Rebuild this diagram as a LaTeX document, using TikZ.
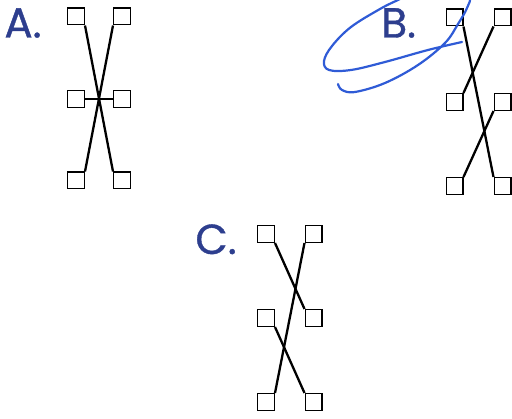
\documentclass[tikz,border=0pt]{standalone}
\usepackage{fontspec}
\newfontfamily\letterfont{Poppins}[FakeBold=0.9]
\usepackage{xcolor}
\usepackage{tikz}
\usetikzlibrary{positioning}
\definecolor{LetterBlue}{HTML}{2D3E8E}
\definecolor{PenBlue}{HTML}{2F5BD6}
\tikzset{
  every picture/.style={line width=0.8pt},
  pinbox/.style={
    draw=black,
    line width=1.2pt,
    minimum size=16.8pt,
    inner sep=0pt,
    fill=white
  },
  wire/.style={draw=black, line width=2.3pt},
  letter/.style={
    font=\letterfont\fontsize{42}{42}\selectfont,
    text=LetterBlue,
    inner sep=0pt,
    anchor=base west
  },
  scribble/.style={draw=PenBlue, line width=2.2pt, line cap=round, line join=round}
}

\begin{document}
\begin{tikzpicture}[x=1pt,y=-1pt]
  \useasboundingbox (0,0) rectangle (512,419);

  % option A
  \node[letter] (labA) at (4,37.5) {A.};
  \foreach \n/\x/\y in {atl/76/16.5, atr/122/16.5, aml/76/99, amr/122/99, abl/76/180.5, abr/122/180.5}
    \node[pinbox] (\n) at (\x,\y) {};
  \draw[wire] (atl.south east) -- (abr.north west);
  \draw[wire] (atr.south west) -- (abl.north east);
  \draw[wire] (aml.east) -- (amr.west);

  % option B
  \node[letter] (labB) at (381,37.5) {B.};
  \foreach \n/\x/\y in {btl/454.5/17.5, btr/502.5/17.5, bml/454.5/102, bmr/502.5/102, bbl/454.5/186, bbr/502.5/186}
    \node[pinbox] (\n) at (\x,\y) {};
  \draw[wire] (btl.south east) -- (bbr.north west);
  \draw[wire] (btr.south west) -- (bml.north east);
  \draw[wire] (bmr.south west) -- (bbl.north east);

  % option C
  \node[letter] (labC) at (195,254) {C.};
  \foreach \n/\x/\y in {ctl/266/234, ctr/313.5/234, cml/266/318, cmr/313.5/318, cbl/266/402, cbr/313.5/402}
    \node[pinbox] (\n) at (\x,\y) {};
  \draw[wire] (ctl.south east) -- (cmr.north west);
  \draw[wire] (ctr.south west) -- (cbl.north east);
  \draw[wire] (cml.south east) -- (cbr.north west);

  % pen mark round B
  \begin{scope}
    \clip (0,0) rectangle (512,419);
    \draw[scribble] plot[smooth, tension=0.6] coordinates {
      (338,84) (342,90) (355,92) (385,83) (418,65) (445,43) (458,24) (467,8)
      (469,-4) (450,-14) (420,-10) (398,0) (380,9) (351,27) (332,46) (324,61)
      (329,70) (351,70) (385,62) (428,50) (462,42)};
  \end{scope}
\end{tikzpicture}
\end{document}
